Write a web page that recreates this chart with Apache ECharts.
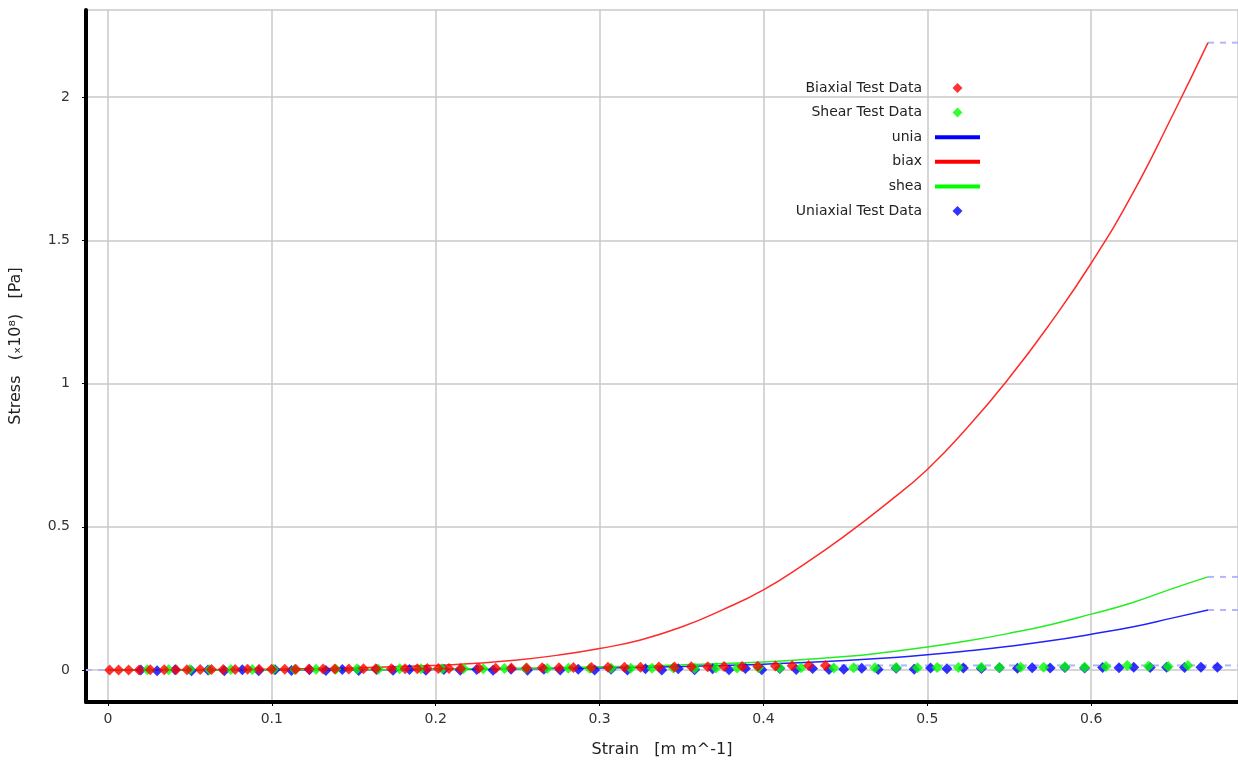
<!DOCTYPE html>
<html>
<head>
<meta charset="utf-8">
<script src="https://cdn.jsdelivr.net/npm/echarts@6/dist/echarts.min.js"></script>
<style>
html,body{margin:0;padding:0;background:#fff;}
#chart{width:1238px;height:763px;}
</style>
</head>
<body>
<div id="chart"></div>
<script>
// ---- model curves (Stress in 1e8 Pa) ----
const modelStrain = [0, 0.05, 0.1, 0.15, 0.2, 0.225, 0.25, 0.275, 0.3, 0.325, 0.35, 0.375, 0.4, 0.425, 0.45, 0.475, 0.5, 0.525, 0.55, 0.575, 0.6, 0.625, 0.65, 0.6713];
const biaxModel   = [0, 0.0005, 0.003, 0.007, 0.016, 0.024, 0.035, 0.052, 0.075, 0.105, 0.15, 0.21, 0.28, 0.37, 0.47, 0.58, 0.70, 0.85, 1.02, 1.21, 1.42, 1.66, 1.94, 2.19];
const sheaModel   = [0, 0.0001, 0.0003, 0.0012, 0.003, 0.0045, 0.006, 0.008, 0.011, 0.014, 0.018, 0.023, 0.028, 0.037, 0.047, 0.062, 0.08, 0.102, 0.128, 0.158, 0.195, 0.235, 0.285, 0.325];
const uniaModel   = [0, 0.0001, 0.0002, 0.0008, 0.002, 0.003, 0.004, 0.0055, 0.007, 0.009, 0.012, 0.016, 0.02, 0.026, 0.033, 0.042, 0.053, 0.067, 0.083, 0.102, 0.125, 0.15, 0.182, 0.2094];

// ---- test data ----
const biaxTestStrain = [0.001, 0.0065, 0.0126, 0.019, 0.0258, 0.0343, 0.0415, 0.0482, 0.0563, 0.0632, 0.0703, 0.0776, 0.0852, 0.0922, 0.0998, 0.1079, 0.1146, 0.1227, 0.1313, 0.1384, 0.147, 0.1559, 0.1634, 0.173, 0.1813, 0.1888, 0.1949, 0.2016, 0.2081, 0.2152, 0.2264, 0.2366, 0.2462, 0.2555, 0.265, 0.2752, 0.284, 0.295, 0.3051, 0.3152, 0.325, 0.3362, 0.3457, 0.356, 0.366, 0.376, 0.387, 0.3965, 0.4073, 0.4175, 0.4276, 0.4378];
const biaxTestStress = [0, 0, 0.0002, 0.0004, 0.0006, 0.0008, 0.001, 0.0012, 0.0014, 0.0016, 0.0018, 0.002, 0.0022, 0.0024, 0.0026, 0.0028, 0.003, 0.0032, 0.0034, 0.0036, 0.0038, 0.004, 0.0042, 0.0044, 0.0046, 0.0048, 0.005, 0.0052, 0.0054, 0.0056, 0.006, 0.0064, 0.0068, 0.0072, 0.0076, 0.008, 0.0084, 0.0088, 0.0092, 0.0096, 0.01, 0.0104, 0.0108, 0.0112, 0.0116, 0.012, 0.0125, 0.013, 0.0138, 0.0146, 0.0154, 0.016];

const sheaTestStrain = [0.024, 0.037, 0.050, 0.062, 0.075, 0.088, 0.101, 0.114, 0.127, 0.139, 0.152, 0.165, 0.178, 0.191, 0.204, 0.217, 0.229, 0.242, 0.255, 0.268, 0.281, 0.294, 0.307, 0.319, 0.332, 0.345, 0.358, 0.371, 0.384, 0.397, 0.410, 0.423, 0.443, 0.455, 0.468, 0.481, 0.494, 0.506, 0.519, 0.533, 0.544, 0.557, 0.571, 0.584, 0.596, 0.609, 0.622, 0.635, 0.647, 0.659];
const sheaTestStress = [0.001, 0.001, 0.002, 0.001, 0.002, 0.002, 0.003, 0.002, 0.003, 0.003, 0.004, 0.003, 0.004, 0.004, 0.004, 0.005, 0.004, 0.005, 0.005, 0.005, 0.006, 0.005, 0.006, 0.006, 0.006, 0.007, 0.006, 0.007, 0.007, 0.008, 0.007, 0.008, 0.007, 0.008, 0.008, 0.009, 0.008, 0.009, 0.009, 0.010, 0.009, 0.010, 0.010, 0.011, 0.010, 0.012, 0.016, 0.013, 0.012, 0.016];

const uniaTestStrain = [0.020, 0.030, 0.041, 0.051, 0.061, 0.071, 0.082, 0.092, 0.102, 0.112, 0.123, 0.133, 0.143, 0.153, 0.164, 0.174, 0.184, 0.194, 0.205, 0.215, 0.225, 0.235, 0.246, 0.256, 0.266, 0.276, 0.287, 0.297, 0.307, 0.317, 0.328, 0.338, 0.348, 0.358, 0.369, 0.379, 0.389, 0.399, 0.410, 0.420, 0.430, 0.440, 0.449, 0.460, 0.470, 0.481, 0.492, 0.502, 0.512, 0.522, 0.533, 0.544, 0.555, 0.564, 0.575, 0.584, 0.596, 0.607, 0.617, 0.626, 0.636, 0.646, 0.657, 0.667, 0.677];
const uniaTestStress = [0.000, -0.003, 0.001, -0.003, 0.000, -0.003, 0.001, -0.003, 0.001, -0.002, 0.001, -0.002, 0.002, -0.002, 0.002, -0.001, 0.002, -0.001, 0.002, -0.001, 0.002, -0.001, 0.003, -0.001, 0.003, 0.000, 0.003, 0.000, 0.003, 0.000, 0.004, 0.000, 0.004, 0.001, 0.004, 0.001, 0.005, 0.001, 0.005, 0.002, 0.005, 0.002, 0.003, 0.006, 0.002, 0.006, 0.003, 0.007, 0.004, 0.007, 0.005, 0.008, 0.006, 0.008, 0.007, 0.009, 0.007, 0.009, 0.008, 0.010, 0.009, 0.010, 0.009, 0.010, 0.010];

// axis extents
const xMin = -0.0134, xMax = 0.6896;
const yMin = -0.1117, yMax = 2.304;

function pairs(xs, ys) { return xs.map((x, i) => [x, ys[i]]); }
const last = a => a[a.length - 1];
const modelEnd = last(modelStrain);

const FONT = 'DejaVu Sans';
const dashStyle = { color: '#b3b3ff', width: 2, type: [6, 6] };
const diamond = 'path://M0,-1L1,0L0,1L-1,0Z';
const bar = 'path://M0,0L45,0L45,4L0,4Z';

const chart = echarts.init(document.getElementById('chart'), null, { renderer: 'canvas' });
chart.setOption({
  animation: false,
  backgroundColor: '#ffffff',
  textStyle: { fontFamily: FONT },
  grid: { left: 85, right: 0, top: 10, bottom: 61, containLabel: false },
  xAxis: {
    type: 'value', min: xMin, max: xMax,
    name: 'Strain   [m m^-1]', nameLocation: 'middle', nameGap: 40,
    nameTextStyle: { fontFamily: FONT, fontSize: 16, color: '#222' },
    axisLine: { show: true, onZero: false, lineStyle: { color: '#000', width: 4 } },
    axisTick: { show: true, length: 4, lineStyle: { color: '#000', width: 1 } },
    axisLabel: { showMinLabel: false, showMaxLabel: false, fontFamily: FONT, fontSize: 14, color: '#333', margin: 10 },
    splitLine: { show: true, lineStyle: { color: '#c8c8c8', width: 1.5 } }
  },
  yAxis: {
    type: 'value', min: yMin, max: yMax,
    name: 'Stress   (\u209310\u2078)   [Pa]', nameLocation: 'middle', nameGap: 62,
    nameTextStyle: { fontFamily: FONT, fontSize: 16, color: '#222', padding: [0, 0, 0, 20] },
    axisLine: { show: true, onZero: false, lineStyle: { color: '#000', width: 4 } },
    axisTick: { show: true, length: 4, lineStyle: { color: '#000', width: 1 } },
    axisLabel: { showMinLabel: false, showMaxLabel: false, fontFamily: FONT, fontSize: 14, color: '#333', margin: 16 },
    splitLine: { show: true, lineStyle: { color: '#c8c8c8', width: 1.5 } }
  },
  legend: {
    orient: 'vertical', align: 'right', right: 253, top: 75,
    itemWidth: 45, itemHeight: 10, itemGap: 8.6,
    symbolKeepAspect: true,
    textStyle: { fontFamily: FONT, fontSize: 14, color: '#222', lineHeight: 16, padding: [0, 8, 0, 0] },
    data: [
      { name: 'Biaxial Test Data', icon: diamond },
      { name: 'Shear Test Data', icon: diamond },
      { name: 'unia', icon: bar },
      { name: 'biax', icon: bar },
      { name: 'shea', icon: bar },
      { name: 'Uniaxial Test Data', icon: diamond }
    ]
  },
  series: [
    // dashed guides
    { name: 'g1', type: 'line', silent: true, symbol: 'none', lineStyle: dashStyle, data: [[xMin, 0], [0, 0]], z: 1 },
    { name: 'g2', type: 'line', silent: true, symbol: 'none', lineStyle: dashStyle, data: [[modelEnd, last(biaxModel)], [xMax, last(biaxModel)]], z: 1 },
    { name: 'g3', type: 'line', silent: true, symbol: 'none', lineStyle: dashStyle, data: [[modelEnd, last(sheaModel)], [xMax, last(sheaModel)]], z: 1 },
    { name: 'g4', type: 'line', silent: true, symbol: 'none', lineStyle: dashStyle, data: [[modelEnd, last(uniaModel)], [xMax, last(uniaModel)]], z: 1 },
    { name: 'g5', type: 'line', silent: true, symbol: 'none', lineStyle: dashStyle, data: [[0.44, 0.016], [xMax, 0.016]], z: 1 },
    // model curves
    { name: 'unia', type: 'line', symbol: 'none', smooth: true, color: '#0000ff', lineStyle: { color: '#2222ff', width: 1.5 }, data: pairs(modelStrain, uniaModel), z: 2 },
    { name: 'biax', type: 'line', symbol: 'none', smooth: true, color: '#ff0000', lineStyle: { color: '#ff2a2a', width: 1.5 }, data: pairs(modelStrain, biaxModel), z: 2 },
    { name: 'shea', type: 'line', symbol: 'none', smooth: true, color: '#00ff00', lineStyle: { color: '#22ee22', width: 1.5 }, data: pairs(modelStrain, sheaModel), z: 2 },
    // test data
    { name: 'Uniaxial Test Data', type: 'scatter', symbol: 'diamond', symbolSize: 11, itemStyle: { color: '#0000ff' }, data: pairs(uniaTestStrain, uniaTestStress), z: 3 },
    { name: 'Shear Test Data', type: 'scatter', symbol: 'diamond', symbolSize: 11, itemStyle: { color: '#00ff00' }, data: pairs(sheaTestStrain, sheaTestStress), z: 4 },
    { name: 'Biaxial Test Data', type: 'scatter', symbol: 'diamond', symbolSize: 11, itemStyle: { color: '#ff0000' }, data: pairs(biaxTestStrain, biaxTestStress), z: 5 }
  ]
});
</script>
</body>
</html>
